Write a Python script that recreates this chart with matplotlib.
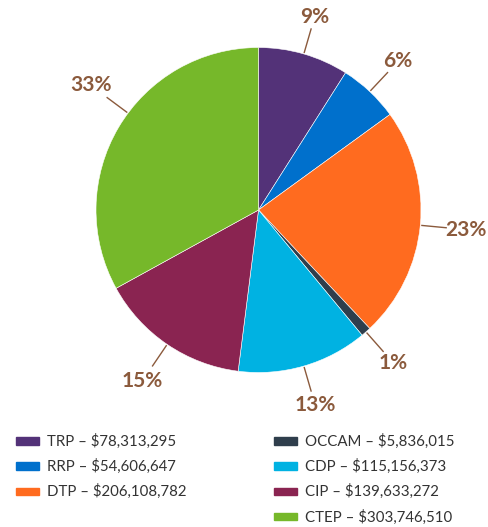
import numpy as np
import matplotlib.pyplot as plt
from matplotlib.patches import Rectangle

programs = ["TRP", "RRP", "DTP", "OCCAM", "CDP", "CIP", "CTEP"]
amounts = [78313295, 54606647, 206108782, 5836015, 115156373, 139633272, 303746510]
shares = [9, 6, 23, 1, 13, 15, 33]  # percent shown on the chart
colors = ["#533278", "#0070CC", "#FF6B1F", "#2F3E4C", "#00B2E2", "#8A2451", "#76B82A"]
legend_left = ["TRP", "RRP", "DTP"]
legend_right = ["OCCAM", "CDP", "CIP", "CTEP"]

W, H = 488, 527
fig = plt.figure(figsize=(W / 100, H / 100), dpi=100)
ax = fig.add_axes([0, 0, 1, 1])

cx, cy, R = 258.5, H - 210, 162.5
wedges, _ = ax.pie(shares, colors=colors, startangle=90, counterclock=False,
                   radius=R, center=(cx, cy), frame=True,
                   wedgeprops=dict(edgecolor="white", linewidth=0.4))
ax.set_xlim(0, W)
ax.set_ylim(0, H)
ax.set_aspect("equal")
ax.axis("off")

brown = "#8B5A3C"
# label for the big slice sits a little off its middle
shift = [0, 0, 0, 0, 0, 0, -6]
for w, p, d in zip(wedges, shares, shift):
    ang = np.deg2rad((w.theta1 + w.theta2) / 2 + d)
    c, s = np.cos(ang), np.sin(ang)
    ax.plot([cx + 1.01 * R * c, cx + 1.16 * R * c],
            [cy + 1.01 * R * s, cy + 1.16 * R * s], color=brown, lw=1)
    tw = 22 if p < 10 else 33
    rt = 1.16 * R + 3 + abs(c) * tw / 2 + abs(s) * 7
    ax.text(cx + rt * c, cy + rt * s, f"{p}%", ha="center", va="center",
            fontsize=15, fontweight="bold", color=brown, family="Lato")

amt = dict(zip(programs, amounts))
col = dict(zip(programs, colors))
for x0, names in [(16, legend_left), (274, legend_right)]:
    for i, n in enumerate(names):
        y = H - (441 + 25.3 * i)
        ax.add_patch(Rectangle((x0, y - 3.5), 23, 7.5, color=col[n]))
        ax.text(x0 + 31, y, f"{n} – ${amt[n]:,}", ha="left", va="center",
                fontsize=10.8, color="#333333", family="Lato")

fig.savefig("out.png", dpi=100)
